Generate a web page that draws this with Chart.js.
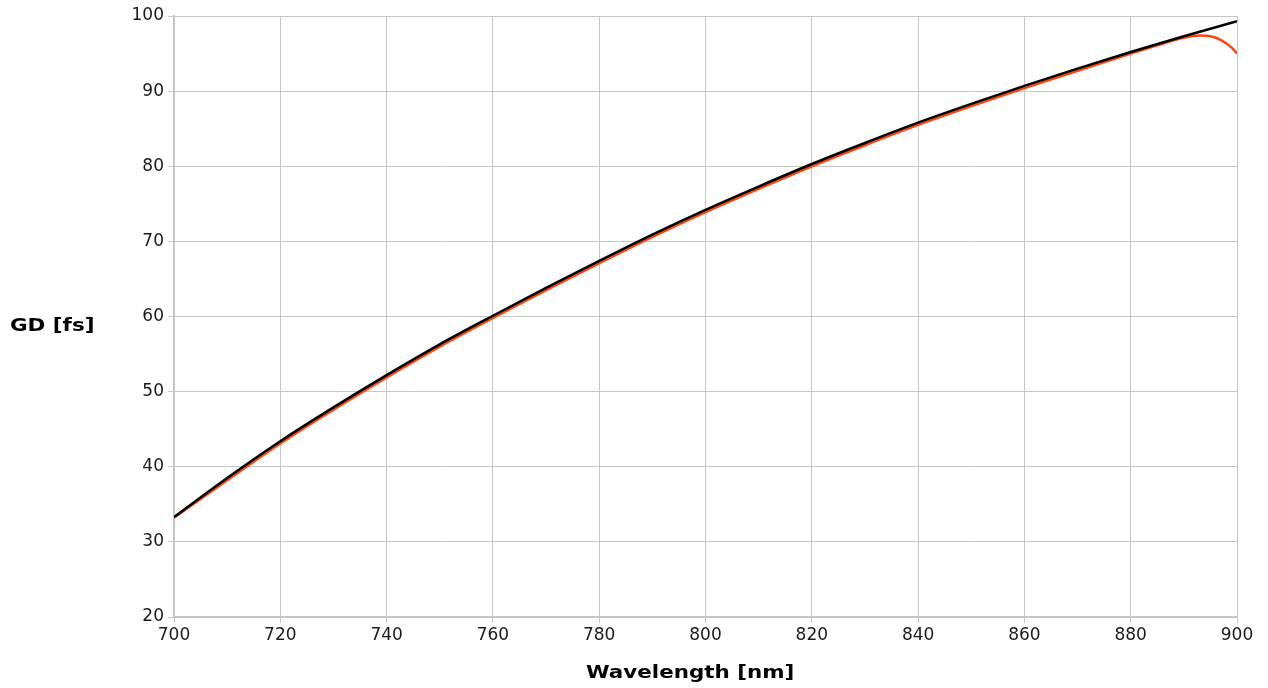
<!DOCTYPE html>
<html>
<head>
<meta charset="utf-8">
<script src="https://cdn.jsdelivr.net/npm/chart.js@4"></script>
<style>
  html, body { margin: 0; padding: 0; background: #fff; }
  #wrap { position: relative; width: 1268px; height: 688px; }
  .t { position: absolute; font: bold 17px "DejaVu Sans", sans-serif; color: #000; white-space: nowrap; transform-origin: 0 0; transform: scaleX(1.26); line-height: 20px; }
  #ytitle { left: 10px; top: 315px; }
  #xtitle { left: 586px; top: 662px; }
</style>
</head>
<body>
<div id="wrap">
  <canvas id="c" width="1268" height="688"></canvas>
  <div id="ytitle" class="t"></div>
  <div id="xtitle" class="t"></div>
</div>
<script>
const yTitle = "GD [fs]";
const xTitle = "Wavelength [nm]";
const wavelengthsCalc = [700, 710, 720, 730, 740, 750, 760, 770, 780, 790, 800, 810, 820, 830, 840, 850, 860, 870, 880, 890, 900];
const gdCalc = [33.3, 38.5, 43.4, 47.9, 52.2, 56.3, 60.1, 63.8, 67.4, 70.9, 74.2, 77.3, 80.3, 83.1, 85.8, 88.3, 90.7, 93.0, 95.2, 97.3, 99.3];
const wavelengthsMeas = [700, 710, 720, 730, 740, 750, 760, 770, 780, 790, 800, 810, 820, 830, 840, 850, 860, 870, 880, 885, 890, 893, 895, 897, 899, 900];
const gdMeas = [33.2, 38.2, 43.1, 47.6, 51.9, 56.0, 59.8, 63.5, 67.1, 70.6, 73.9, 77.0, 80.0, 82.8, 85.5, 88.0, 90.4, 92.7, 95.0, 96.1, 97.1, 97.4, 97.3, 96.8, 95.8, 95.0];

document.getElementById('ytitle').textContent = yTitle;
document.getElementById('xtitle').textContent = xTitle;

const toPts = (xs, ys) => xs.map((x, i) => ({ x: x, y: ys[i] }));
const gridColor = '#c6c6c6';
const tickFont = { family: '"DejaVu Sans", sans-serif', size: 17 };

new Chart(document.getElementById('c'), {
  type: 'line',
  data: {
    datasets: [
      {
        label: 'calculated',
        data: toPts(wavelengthsCalc, gdCalc),
        borderColor: '#000000',
        borderWidth: 2.5,
        pointRadius: 0,
        cubicInterpolationMode: 'monotone',
        fill: false
      },
      {
        label: 'measured',
        data: toPts(wavelengthsMeas, gdMeas),
        borderColor: '#ff420e',
        borderWidth: 2.5,
        pointRadius: 0,
        cubicInterpolationMode: 'monotone',
        fill: false
      }
    ]
  },
  options: {
    responsive: false,
    animation: false,
    layout: { padding: { left: 0, right: 31, top: 16, bottom: 0 } },
    plugins: { legend: { display: false }, tooltip: { enabled: false } },
    scales: {
      x: {
        type: 'linear',
        min: 700, max: 900,
        ticks: { stepSize: 20, color: '#1a1a1a', font: tickFont, padding: 2, maxRotation: 0 },
        grid: { color: gridColor, lineWidth: 1, tickLength: 6 },
        border: { color: gridColor, width: 2 },
        title: { display: false },
        afterFit: (s) => { s.height = 71; }
      },
      y: {
        type: 'linear',
        min: 20, max: 100,
        ticks: { stepSize: 10, color: '#1a1a1a', font: tickFont, padding: 4 },
        grid: { color: gridColor, lineWidth: 1, tickLength: 6 },
        border: { color: gridColor, width: 2 },
        afterFit: (s) => { s.width = 174; }
      }
    }
  }
});
</script>
</body>
</html>
